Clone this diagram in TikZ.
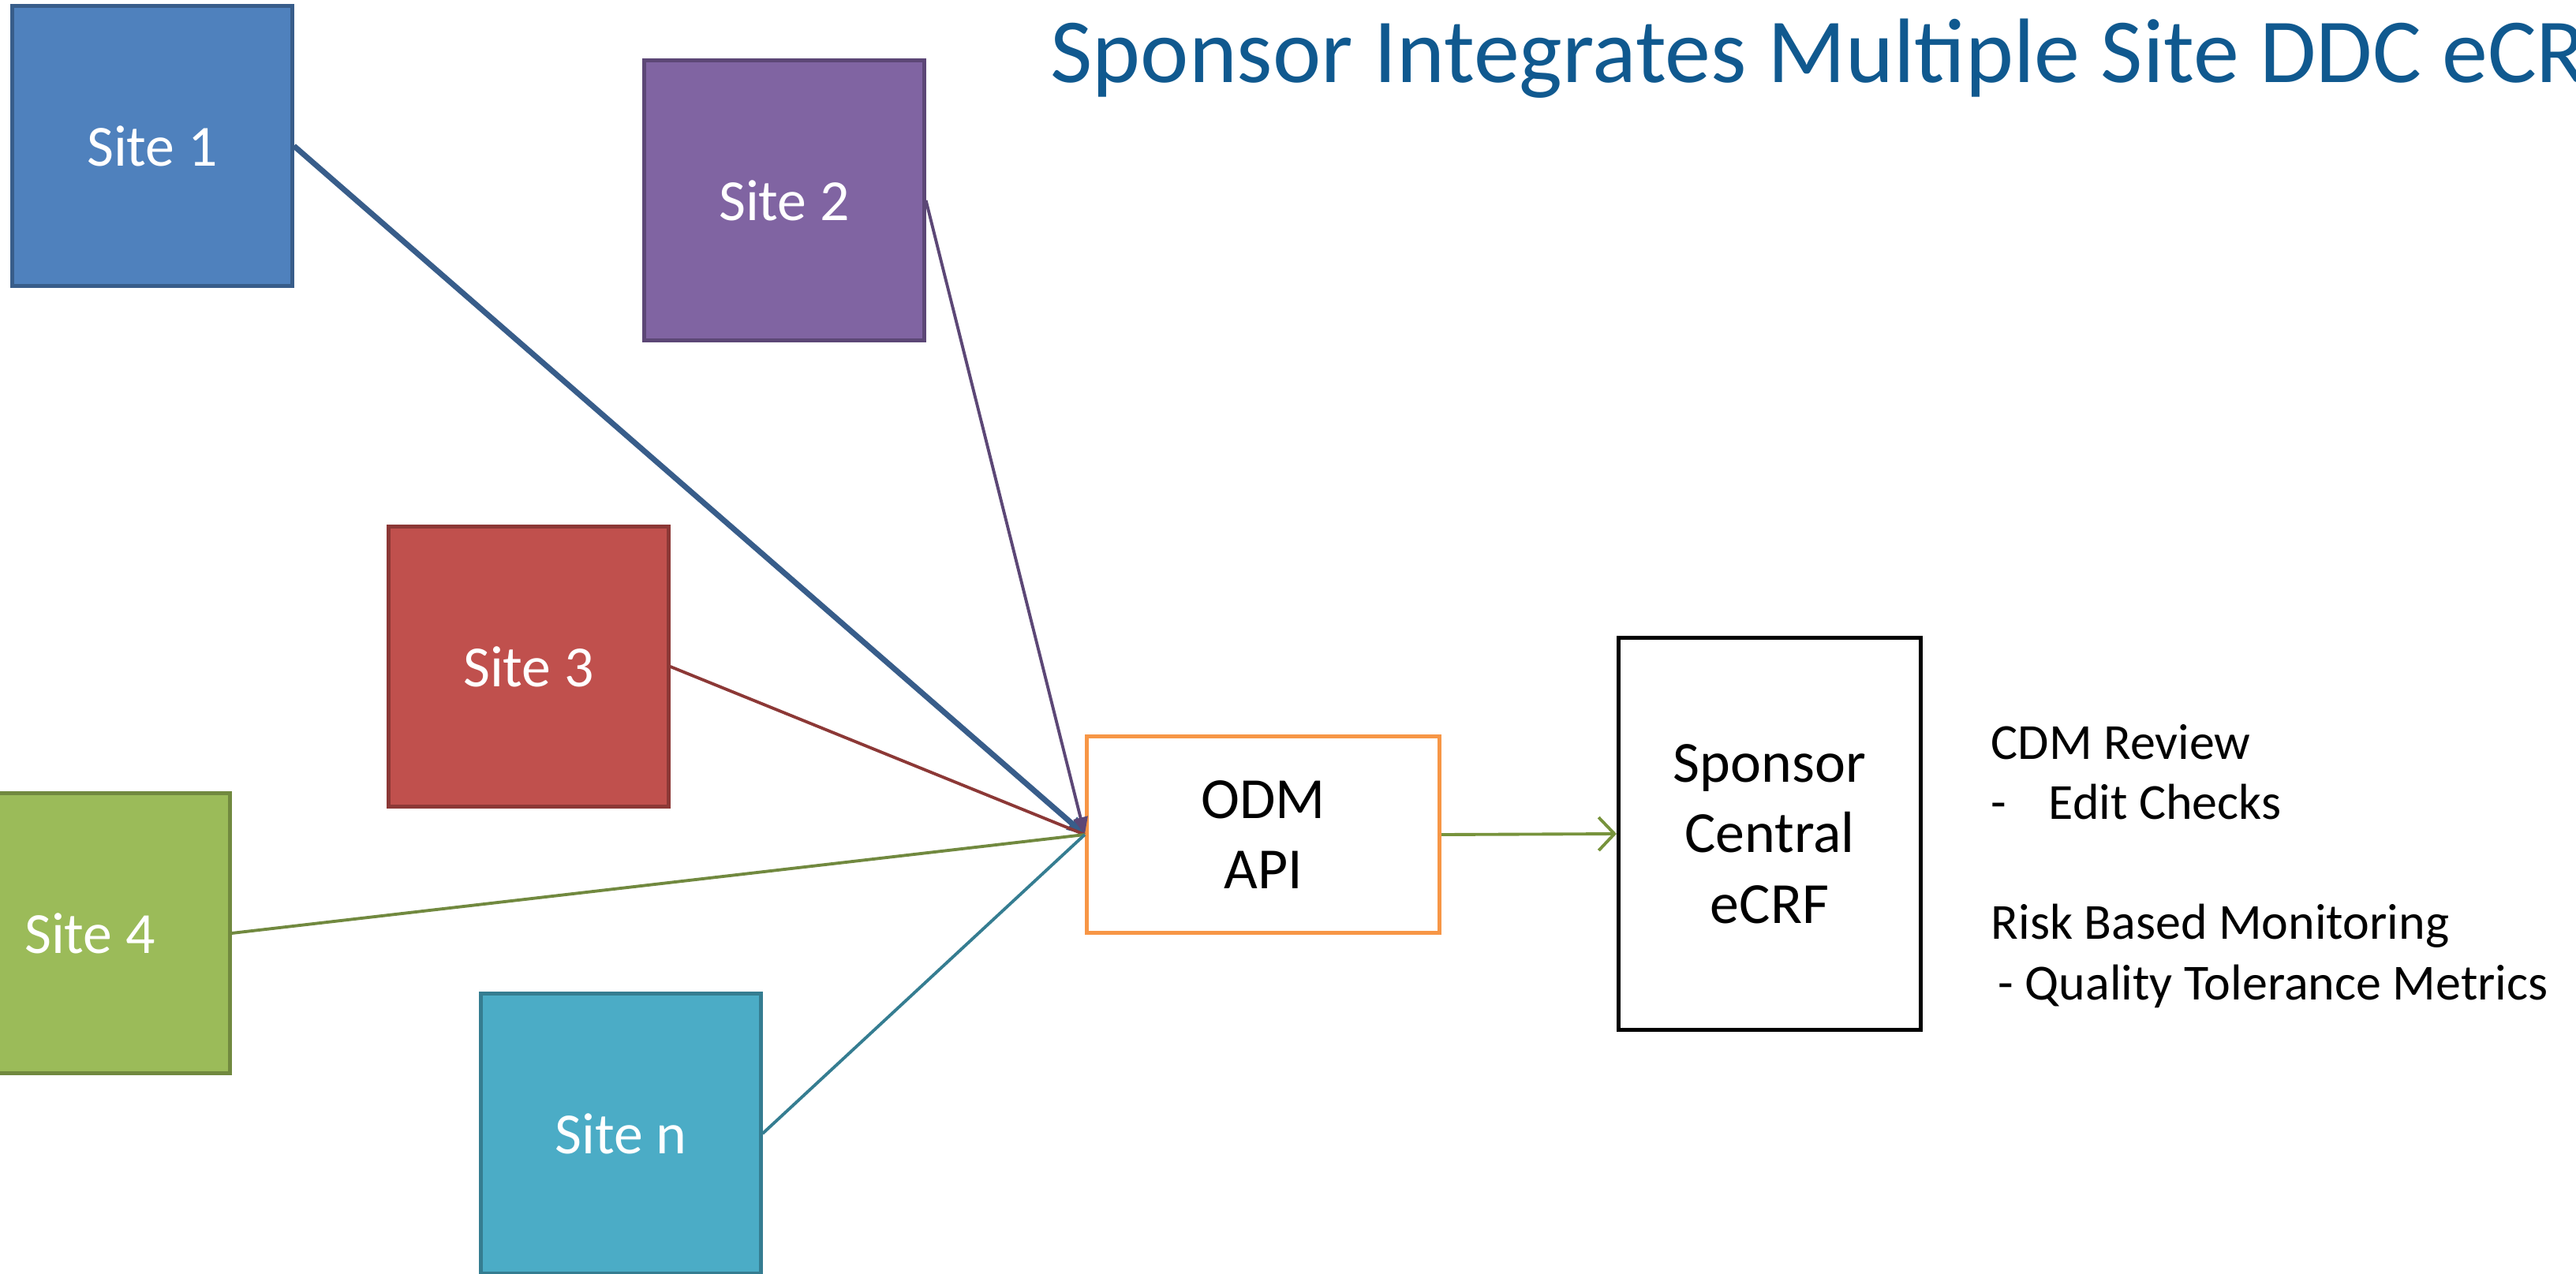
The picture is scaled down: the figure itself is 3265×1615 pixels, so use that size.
\documentclass[tikz,border=0pt]{standalone}
\usepackage{fontspec}
\setmainfont{Carlito}
\usetikzlibrary{arrows.meta}

\definecolor{sitea}{HTML}{4F81BD}
\definecolor{sitealine}{HTML}{385D8A}
\definecolor{siteb}{HTML}{8064A2}
\definecolor{sitebline}{HTML}{5C4776}
\definecolor{sitec}{HTML}{C0504D}
\definecolor{sitecline}{HTML}{8C3836}
\definecolor{sited}{HTML}{9BBB59}
\definecolor{sitedline}{HTML}{71893F}
\definecolor{siten}{HTML}{4BACC6}
\definecolor{sitenline}{HTML}{357D91}
\definecolor{odmline}{HTML}{F79646}
\definecolor{flowgreen}{HTML}{77933C}
\definecolor{titleblue}{HTML}{10598F}

\tikzset{
  site/.style={draw, line width=1.4pt, minimum width=3.54cm, minimum height=3.54cm,
    text=white, font=\fontsize{21}{25.5}\selectfont},
  feed/.style={line width=1.1pt},
  hub/.style={draw, line width=1.4pt, align=center, font=\fontsize{21}{25.5}\selectfont},
  note/.style={anchor=base west, inner sep=0pt, font=\fontsize{18.2}{22}\selectfont},
}

\begin{document}
\begin{tikzpicture}[x=0.01cm, y=-0.01cm]
  \useasboundingbox (0,0) rectangle (3265,1615);

  % title, runs off the slide on the right
  \node[anchor=base west, inner sep=0pt, text=titleblue,
    font=\fontsize{33}{40}\selectfont] (title) at (1331, 104)
    {Sponsor Integrates Multiple Site DDC eCRF};

  % sites
  \node[site, fill=sitea, draw=sitealine] (site1) at (193, 185) {Site 1};
  \node[site, fill=siteb, draw=sitebline] (site2) at (994, 254) {Site 2};
  \node[site, fill=sitec, draw=sitecline] (site3) at (670, 845) {Site 3};
  \node[site, fill=sited, draw=sitedline] (site4) at (114, 1183) {Site 4};
  \node[site, fill=siten, draw=sitenline] (siten) at (787, 1437) {Site n};

  % ODM hub and sponsor eCRF
  \node[hub, draw=odmline, minimum width=4.47cm, minimum height=2.48cm] (odm)
    at (1601, 1058) {ODM\\API};
  \node[hub, draw=black, minimum width=3.83cm, minimum height=4.96cm] (ecrf)
    at (2243, 1057) {Sponsor\\Central\\eCRF};

  % notes
  \node[note] (cdm) at (2523, 962) {CDM Review};
  \node[note] (edash) at (2523, 1038) {-};
  \node[note] (edit) at (2596, 1038) {Edit Checks};
  \node[note] (rbm) at (2523, 1190) {Risk Based Monitoring};
  \node[note] (qtm) at (2532, 1267) {- Quality Tolerance Metrics};

  % feeds into the hub
  \draw[sitealine, line width=2pt, -{Triangle[length=0.22cm, width=0.2cm]}]
    (site1.east) -- (odm.west);
  \draw[sitebline, feed, -{Triangle[length=0.22cm, width=0.18cm]}]
    (site2.east) -- (odm.west);
  \draw[sitecline, feed] (site3.east) -- (odm.west);
  \draw[sitedline, feed] (site4.east) -- (odm.west);
  \draw[sitenline, feed] (siten.east) -- (odm.west);

  \draw[flowgreen, feed, -{Straight Barb[length=0.2cm, width=0.42cm]}]
    (odm.east) -- (ecrf.west);
\end{tikzpicture}
\end{document}
